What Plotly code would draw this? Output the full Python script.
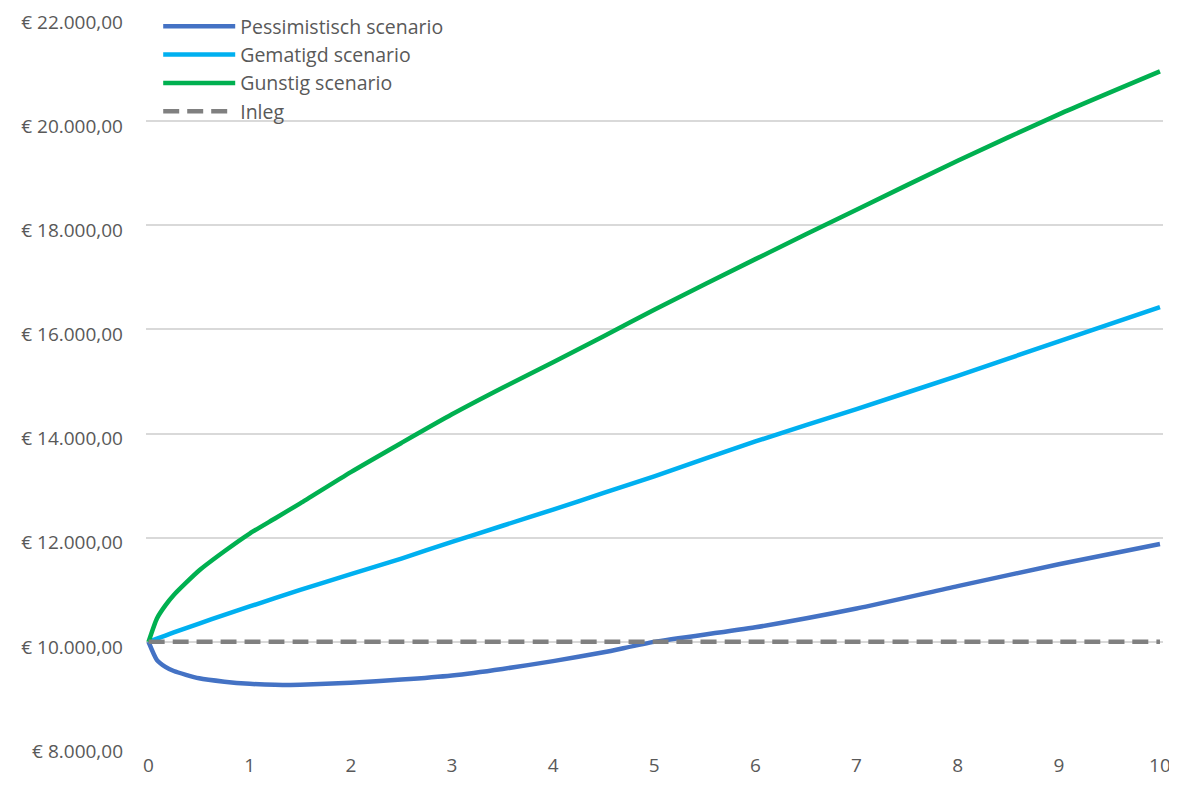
import plotly.graph_objects as go

# ---- data ----
years = [0, 1/12, 2/12, 0.25, 0.5, 0.75, 1, 1.25, 1.5, 2, 2.5, 3, 3.5, 4, 4.5, 5, 6, 7, 8, 9, 10]

pessimistisch = [10000, 9650, 9520, 9440, 9300, 9235, 9195, 9175, 9178, 9215, 9275, 9355, 9480,
                 9630, 9800, 10000, 10280, 10640, 11070, 11490, 11880]
gematigd = [10000, 10060, 10120, 10180, 10350, 10520, 10680, 10840, 11000, 11300, 11600, 11920,
            12230, 12540, 12860, 13180, 13850, 14470, 15110, 15770, 16430]
gunstig = [10000, 10450, 10700, 10900, 11370, 11740, 12080, 12370, 12660, 13260, 13820, 14370,
           14880, 15370, 15870, 16380, 17350, 18300, 19240, 20130, 20955]
inleg = [10000] * len(years)

series_names = ["Pessimistisch scenario", "Gematigd scenario", "Gunstig scenario", "Inleg"]
series_colors = ["#4472C4", "#00B0F0", "#00B050", "#808080"]

y_tickvals = [8000, 10000, 12000, 14000, 16000, 18000, 20000, 22000]
y_ticktext = ["€ 8.000,00", "€ 10.000,00", "€ 12.000,00", "€ 14.000,00",
              "€ 16.000,00", "€ 18.000,00", "€ 20.000,00", "€ 22.000,00"]
x_tickvals = [0, 1, 2, 3, 4, 5, 6, 7, 8, 9, 10]
x_ticktext = ["0", "1", "2", "3", "4", "5", "6", "7", "8", "9", "10"]

FONT = "'Open Sans', Lato, sans-serif"
TXT = "#595959"

fig = go.Figure()
all_series = [pessimistisch, gematigd, gunstig, inleg]
for name, color, vals in zip(series_names, series_colors, all_series):
    dash = "16px,8px" if name == "Inleg" else "solid"
    fig.add_trace(go.Scatter(
        x=years, y=vals, mode="lines", name=name,
        line=dict(color=color, width=4.5, dash=dash, shape="spline", smoothing=0.6),
        hoverinfo="skip",
    ))

# page body has an 8px margin, so the figure is drawn 8px in/down
fig.update_layout(
    width=1169, height=781,
    margin=dict(l=138, r=14, t=9, b=43, autoexpand=False),
    paper_bgcolor="white", plot_bgcolor="white",
    font=dict(family=FONT, color=TXT, size=20),
    showlegend=True,
    legend=dict(
        x=0.012, y=1.0137, xanchor="left", yanchor="top",
        bgcolor="rgba(255,255,255,0)",
        font=dict(family=FONT, size=19.5, color=TXT),
        itemwidth=72, tracegroupgap=0,
    ),
    xaxis=dict(
        range=[-0.025, 10.03], automargin=False,
        tickvals=x_tickvals, ticktext=x_ticktext,
        showgrid=False, zeroline=False, showline=False,
        ticks="", ticklabelstandoff=6, ticklabeloverflow="allow",
        tickfont=dict(family=FONT, size=19, color=TXT),
    ),
    yaxis=dict(
        range=[8000, 22000], automargin=False,
        tickvals=y_tickvals, ticktext=y_ticktext,
        showgrid=True, gridcolor="#D9D9D9", gridwidth=1.5,
        zeroline=False, showline=False, ticks="",
        ticklabelstandoff=22, ticklabelshift=5, ticklabeloverflow="allow",
        tickfont=dict(family=FONT, size=19, color=TXT),
    ),
)

fig.write_html("out.html")
